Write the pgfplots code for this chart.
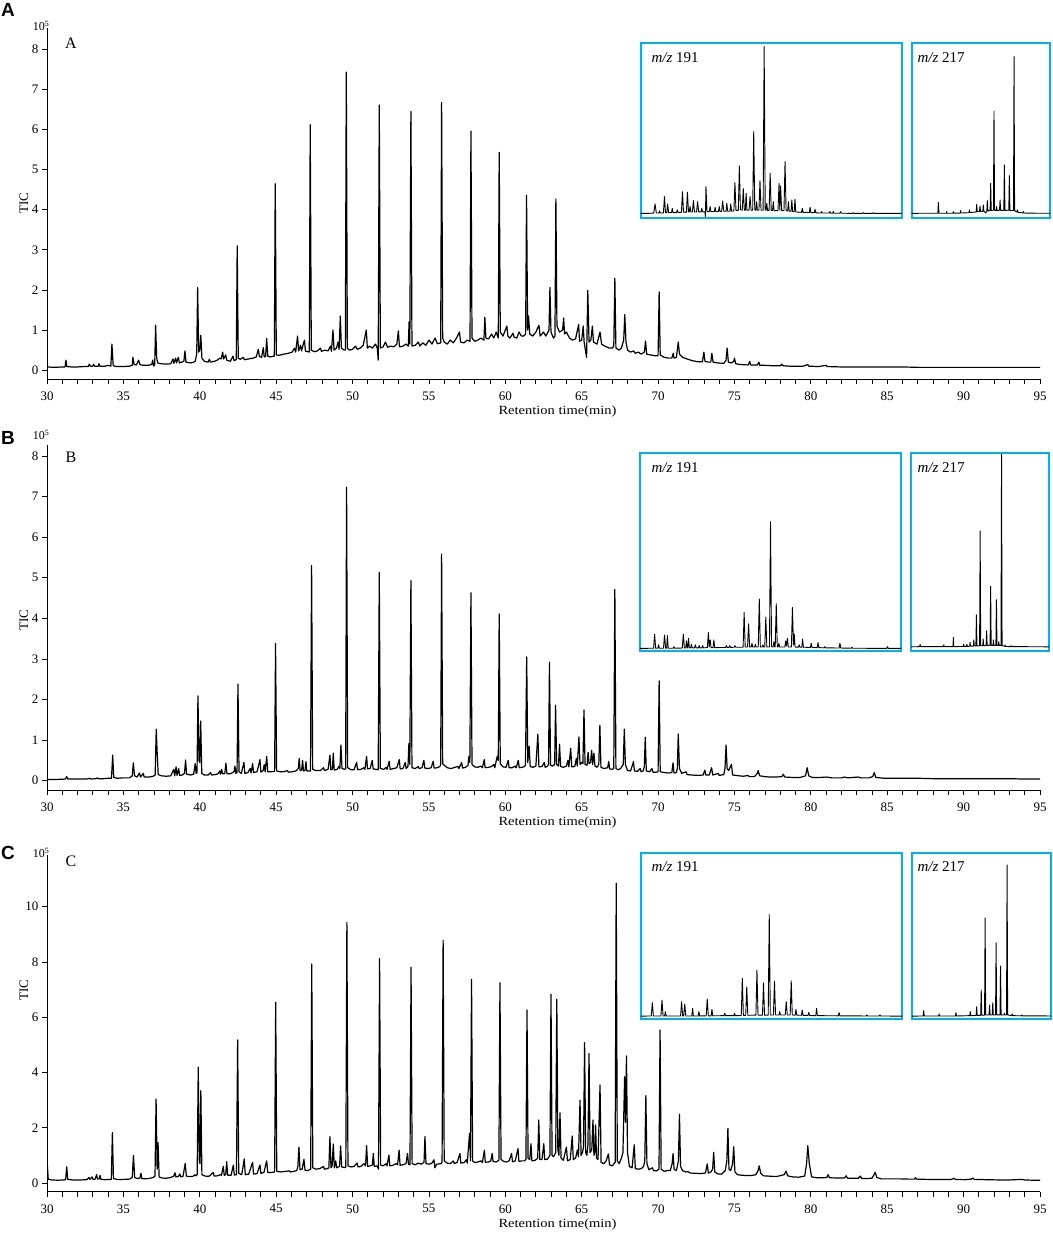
\documentclass[border=0pt]{standalone}
\usepackage{fontspec}
\setmainfont{Liberation Serif}
\newfontfamily\arialb{Liberation Sans}
\usepackage{pgfplots}
\pgfplotsset{compat=1.18}
\definecolor{boxblue}{RGB}{0,176,240}

\pgfplotsset{
  tic/.style={
    scale only axis, anchor=south west, width=993pt,
    xmin=30, xmax=95,
    axis lines=left, axis line style={-, line width=0.9pt},
    xtick={30,35,...,95}, minor xtick={31,...,94},
    tick align=outside, major tick length=5pt, minor tick length=5pt,
    tick style={black, line width=0.8pt},
    every tick label/.append style={font=\fontsize{13}{13}\selectfont},
    xticklabel style={inner sep=1pt, yshift=-6.5pt},
    /pgf/number format/assume math mode=true,
  },
  inset/.style={
    scale only axis, anchor=south west,
    xmin=0, xmax=100, ymin=0, ymax=100, ticks=none,
    axis line style={boxblue, line width=2pt},
  },
  trace/.style={black, line width=1.2pt, line join=round, mark=none},
  mz/.style={black, line width=0.9pt, line join=round, mark=none},
}
\tikzset{xlab/.style={font=\fontsize{12.5}{12.5}\selectfont, xscale=1.16, inner sep=0pt, anchor=base}}

\begin{document}
\begin{tikzpicture}[x=1pt,y=1pt]
\path[use as bounding box] (0,0) rectangle (1052,1236);

% ---------------- panel A ----------------
\begin{axis}[tic, at={(47pt,857pt)}, height=351pt, ymin=-0.22, ymax=8.53, ytick={0,...,8}]
\addplot[trace] coordinates {
(30.00,0.08)(30.50,0.07)(31.00,0.08)(31.18,0.08)(31.24,0.25)(31.30,0.09)(31.60,0.08)(32.00,0.08)
(32.40,0.09)(32.70,0.09)(32.77,0.15)(32.84,0.10)(33.00,0.10)(33.05,0.15)(33.12,0.10)(33.35,0.10)
(33.40,0.16)(33.46,0.10)(33.80,0.10)(34.00,0.12)(34.18,0.10)(34.25,0.65)(34.33,0.12)(34.50,0.09)
(35.00,0.09)(35.40,0.10)(35.58,0.12)(35.62,0.32)(35.70,0.14)(35.85,0.13)(36.00,0.25)(36.08,0.14)
(36.30,0.12)(36.60,0.12)(36.85,0.14)(36.92,0.25)(36.98,0.10)(37.05,0.14)(37.11,1.12)(37.18,0.30)
(37.25,0.18)(37.45,0.16)(37.80,0.15)(38.10,0.16)(38.25,0.28)(38.30,0.17)(38.42,0.30)(38.47,0.18)
(38.60,0.32)(38.66,0.18)(38.80,0.20)(38.96,0.22)(39.03,0.48)(39.10,0.20)(39.40,0.18)(39.60,0.20)
(39.70,0.22)(39.80,0.40)(39.86,2.06)(39.93,0.45)(40.00,0.50)(40.07,0.87)(40.14,0.30)(40.30,0.22)
(40.55,0.20)(40.62,0.27)(40.70,0.20)(40.95,0.22)(41.15,0.25)(41.30,0.30)(41.40,0.28)(41.50,0.45)
(41.56,0.28)(41.70,0.38)(41.76,0.25)(42.00,0.22)(42.18,0.35)(42.24,0.24)(42.39,0.26)(42.45,3.10)
(42.52,0.30)(42.65,0.27)(42.85,0.32)(42.92,0.26)(43.20,0.28)(43.50,0.30)(43.70,0.33)(43.83,0.52)
(43.90,0.34)(44.05,0.32)(44.16,0.56)(44.22,0.33)(44.31,0.34)(44.38,0.79)(44.45,0.35)(44.60,0.33)
(44.88,0.35)(44.94,4.65)(45.01,0.38)(45.20,0.37)(45.50,0.40)(45.80,0.42)(46.05,0.45)(46.20,0.55)
(46.28,0.45)(46.40,0.85)(46.47,0.48)(46.60,0.62)(46.66,0.48)(46.85,0.75)(46.92,0.47)(47.10,0.46)
(47.17,0.45)(47.23,6.12)(47.30,0.50)(47.50,0.46)(47.70,0.48)(47.90,0.55)(47.96,0.47)(48.20,0.50)
(48.40,0.48)(48.55,0.60)(48.62,0.47)(48.72,1.00)(48.79,0.50)(48.95,0.55)(49.05,0.70)(49.12,0.52)
(49.20,1.35)(49.27,0.55)(49.45,0.50)(49.53,0.50)(49.59,7.43)(49.66,0.55)(49.80,0.50)(50.00,0.52)
(50.20,0.60)(50.30,0.52)(50.50,0.55)(50.70,0.62)(50.90,1.00)(50.97,0.55)(51.10,0.60)(51.30,0.55)
(51.50,0.65)(51.62,0.55)(51.68,0.25)(51.75,6.61)(51.82,0.55)(52.00,0.58)(52.15,0.70)(52.30,0.57)
(52.50,0.60)(52.70,0.58)(52.90,0.65)(53.00,0.98)(53.07,0.58)(53.30,0.60)(53.50,0.65)(53.65,0.60)
(53.70,1.20)(53.75,0.65)(53.82,6.45)(53.89,0.60)(54.10,0.62)(54.30,0.70)(54.40,0.60)(54.60,0.68)
(54.80,0.62)(55.00,0.75)(55.20,0.65)(55.40,0.80)(55.55,0.66)(55.77,0.68)(55.83,6.67)(55.90,0.80)
(56.00,0.70)(56.20,0.65)(56.40,0.75)(56.60,0.68)(56.80,0.80)(57.00,0.95)(57.07,0.70)(57.30,0.68)
(57.50,0.75)(57.69,0.72)(57.75,5.96)(57.82,0.80)(58.00,0.72)(58.20,0.75)(58.40,0.80)(58.60,0.75)
(58.66,1.32)(58.73,0.80)(58.90,0.78)(59.10,0.90)(59.25,0.80)(59.40,0.95)(59.54,0.80)(59.60,5.43)
(59.67,0.95)(59.85,0.85)(60.10,1.10)(60.17,0.85)(60.30,0.80)(60.50,0.92)(60.58,0.82)(60.75,0.80)
(60.90,0.95)(61.05,0.85)(61.20,0.85)(61.33,0.90)(61.39,4.36)(61.46,1.00)(61.52,1.35)(61.60,0.90)
(61.80,0.85)(62.00,0.95)(62.20,1.12)(62.28,0.85)(62.50,0.95)(62.65,0.85)(62.80,0.95)(62.86,1.00)
(62.92,2.06)(62.99,0.95)(63.15,0.80)(63.25,0.85)(63.31,4.27)(63.38,1.10)(63.55,0.95)(63.75,1.00)
(63.82,1.30)(63.88,0.90)(64.00,0.95)(64.20,0.80)(64.40,0.75)(64.60,0.78)(64.80,1.14)(64.86,0.72)
(65.00,0.75)(65.10,1.10)(65.16,0.70)(65.32,0.32)(65.40,1.99)(65.48,0.70)(65.60,0.75)(65.70,1.10)
(65.77,0.70)(66.00,0.65)(66.20,0.95)(66.30,0.65)(66.50,0.60)(66.80,0.55)(67.00,0.55)(67.10,0.60)
(67.17,2.29)(67.24,0.55)(67.45,0.50)(67.60,0.55)(67.75,0.75)(67.82,1.39)(67.90,0.70)(68.00,0.50)
(68.20,0.45)(68.40,0.48)(68.50,0.42)(68.70,0.45)(68.90,0.40)(69.10,0.45)(69.18,0.73)(69.25,0.40)
(69.50,0.38)(69.80,0.36)(70.00,0.36)(70.07,1.95)(70.14,0.38)(70.40,0.32)(70.70,0.30)(70.90,0.30)
(70.99,0.42)(71.05,0.30)(71.20,0.32)(71.32,0.70)(71.40,0.40)(71.60,0.32)(71.90,0.28)(72.20,0.24)
(72.60,0.21)(72.90,0.21)(73.00,0.45)(73.07,0.22)(73.30,0.20)(73.45,0.20)(73.52,0.42)(73.60,0.20)
(73.90,0.18)(74.30,0.17)(74.45,0.25)(74.52,0.55)(74.60,0.20)(74.80,0.18)(74.95,0.22)(75.00,0.30)
(75.08,0.16)(75.40,0.14)(75.90,0.13)(76.00,0.22)(76.06,0.13)(76.50,0.13)(76.60,0.20)(76.66,0.12)
(77.00,0.12)(77.50,0.11)(78.00,0.11)(78.10,0.15)(78.16,0.11)(78.60,0.10)(79.00,0.10)(79.50,0.10)
(79.80,0.14)(79.86,0.10)(80.50,0.09)(81.00,0.12)(81.06,0.09)(82.00,0.08)(83.00,0.08)(84.00,0.08)
(85.00,0.08)(86.00,0.08)(87.00,0.07)(88.00,0.07)(89.00,0.07)(90.00,0.07)(91.00,0.07)(92.00,0.07)
(93.00,0.07)(94.00,0.07)(95.00,0.07)
};
\end{axis}

\begin{axis}[inset, at={(640.7pt,1017.7pt)}, width=261pt, height=175pt]
\addplot[mz] coordinates {
(0,2.8)(3,2.8)(5.0,3.0)(5.5,8.2)(6.0,3.0)(7.0,3.0)(7.2,4.2)(7.5,3.0)(8.7,3.1)(9.1,12.4)(9.5,3.2)
(10.0,3.2)(10.3,8.2)(10.7,3.2)(11.8,3.2)(12.1,5.7)(12.4,3.2)(13.7,3.2)(14.0,4.8)(14.3,3.3)(15.6,3.4)
(16.0,15.2)(16.4,3.5)(17.5,3.5)(17.9,14.9)(18.3,3.6)(18.6,3.6)(18.9,6.7)(19.2,3.6)(19.8,3.6)(20.2,10.1)
(20.6,3.6)(21.4,3.6)(21.8,9.5)(22.2,3.7)(23.1,3.7)(23.4,5.7)(23.7,3.7)(24.6,3.7)(24.8,1.0)(25.0,18.1)
(25.4,3.8)(26.3,3.8)(26.6,6.7)(26.9,3.8)(28.2,3.8)(28.5,6.3)(28.8,3.8)(29.8,3.9)(30.1,6.7)(30.4,3.9)
(31.0,3.9)(31.4,9.9)(31.8,4.0)(32.7,4.0)(33.0,8.6)(33.3,4.0)(34.2,4.0)(34.5,8.2)(34.8,4.1)(35.7,4.2)
(36.1,20.4)(36.5,4.5)(37.4,4.5)(37.8,29.9)(38.2,5.0)(38.9,4.6)(39.3,17.0)(39.7,4.6)(40.1,4.6)(40.4,14.3)
(40.7,4.6)(41.5,4.6)(41.9,12.4)(42.3,4.6)(42.9,4.6)(43.3,49.5)(43.7,4.8)(44.1,4.6)(44.4,9.5)(44.7,4.6)
(45.3,4.6)(45.7,21.5)(46.1,4.6)(46.9,4.6)(47.3,98.1)(47.7,4.8)(48.0,4.6)(48.3,8.6)(48.6,4.5)(49.2,4.5)
(49.6,25.7)(50.0,4.5)(50.5,4.5)(50.8,9.5)(51.1,4.4)(52.6,4.4)(53.0,20.0)(53.3,4.6)(53.6,18.5)(54.0,4.4)
(54.9,4.4)(55.3,32.4)(55.7,4.4)(56.3,4.2)(56.6,9.5)(56.9,4.0)(57.6,4.0)(57.9,10.5)(58.2,3.8)(58.8,3.8)
(59.1,10.9)(59.4,3.6)(61.6,3.4)(61.9,5.7)(62.2,3.4)(64.6,3.3)(64.9,6.3)(65.2,3.2)(66.5,3.2)(66.8,5.1)
(67.1,3.1)(69.0,3.0)(69.3,3.8)(69.6,3.0)(72.2,3.0)(72.5,3.8)(72.8,2.9)(73.5,2.9)(73.8,3.8)(74.1,2.9)
(76.3,2.9)(76.6,3.8)(76.9,2.9)(81.2,2.8)(81.5,3.2)(81.8,2.8)(85.0,2.8)(85.3,3.2)(85.6,2.8)(88.8,2.8)
(89.1,3.2)(89.4,2.8)(100,2.8)
};
\end{axis}
\node[anchor=west, font=\fontsize{15}{15}\selectfont] at (648pt,1178pt) {\textit{m/z} 191};

\begin{axis}[inset, at={(911.7pt,1017.7pt)}, width=138.3pt, height=175pt]
\addplot[mz] coordinates {
(0,2.8)(10,2.9)(18.9,2.9)(19.3,9.0)(19.7,2.9)(25.0,2.9)(25.3,3.8)(25.6,2.9)(29.8,2.9)(30.1,3.8)(30.4,2.9)
(35.1,3.0)(35.4,4.4)(35.7,3.0)(41.4,3.2)(41.7,4.8)(42.0,3.3)(46.6,3.6)(47.0,8.0)(47.4,3.8)(49.0,3.9)
(49.4,7.0)(49.8,3.9)(51.4,4.0)(51.8,7.6)(52.2,4.0)(53.5,3.0)(54.3,4.2)(54.7,10.1)(55.1,4.2)(56.7,4.5)
(57.1,20.0)(57.5,4.5)(59.1,4.6)(59.5,61.3)(59.9,4.6)(61.0,4.4)(61.4,6.7)(61.8,4.4)(63.5,4.6)(63.9,10.5)
(64.3,4.5)(66.6,4.5)(67.0,30.5)(67.4,4.5)(70.2,4.6)(70.6,24.4)(71.0,4.4)(73.6,4.5)(74.0,92.4)(74.4,4.3)
(76.0,3.6)(76.4,4.8)(76.8,3.4)(80.3,3.1)(80.7,3.8)(81.1,3.0)(90,2.9)(100,2.9)
};
\end{axis}
\node[anchor=west, font=\fontsize{15}{15}\selectfont] at (914pt,1178pt) {\textit{m/z} 217};

\node[font=\fontsize{12}{12}\selectfont] at (41pt,1210pt) {10\textsuperscript{5}};
\node[font=\fontsize{16}{16}\selectfont] at (71pt,1193pt) {A};
\node[rotate=90, font=\fontsize{13}{13}\selectfont] at (24pt,1033pt) {TIC};
\node[xlab] at (557.5pt,821pt) {Retention time(min)};
\node[font=\arialb\bfseries\fontsize{19}{19}\selectfont] at (8pt,1226pt) {A};

% ---------------- panel B ----------------
\begin{axis}[tic, at={(47pt,446pt)}, height=345pt, ymin=-0.229, ymax=8.27, ytick={0,...,8}]
\addplot[trace] coordinates {
(30.00,0.03)(30.60,0.03)(31.20,0.04)(31.29,0.10)(31.36,0.04)(32.00,0.04)(32.60,0.04)(32.80,0.06)
(32.86,0.04)(33.20,0.05)(33.30,0.07)(33.36,0.05)(33.70,0.05)(34.00,0.06)(34.22,0.06)(34.30,0.63)
(34.37,0.08)(34.60,0.06)(35.00,0.07)(35.40,0.07)(35.58,0.12)(35.65,0.44)(35.73,0.12)(35.90,0.09)
(36.05,0.19)(36.12,0.09)(36.30,0.18)(36.36,0.09)(36.70,0.09)(36.95,0.11)(37.08,0.14)(37.15,1.27)
(37.21,0.70)(37.28,0.15)(37.50,0.12)(37.80,0.11)(38.10,0.12)(38.30,0.28)(38.36,0.12)(38.45,0.34)
(38.51,0.13)(38.62,0.30)(38.68,0.13)(38.85,0.14)(39.00,0.18)(39.07,0.51)(39.14,0.16)(39.40,0.14)
(39.60,0.16)(39.70,0.42)(39.76,0.18)(39.82,0.20)(39.88,2.09)(39.95,0.50)(40.00,0.45)(40.06,1.47)
(40.13,0.18)(40.30,0.14)(40.55,0.14)(40.71,0.20)(40.77,0.14)(41.00,0.15)(41.20,0.17)(41.30,0.24)
(41.36,0.16)(41.43,0.28)(41.49,0.17)(41.64,0.18)(41.71,0.43)(41.78,0.17)(42.00,0.17)(42.24,0.22)
(42.30,0.36)(42.36,0.18)(42.44,0.20)(42.50,2.38)(42.57,0.22)(42.72,0.18)(42.89,0.45)(42.95,0.18)
(43.15,0.20)(43.30,0.30)(43.36,0.19)(43.46,0.42)(43.52,0.20)(43.75,0.22)(43.94,0.52)(44.00,0.21)
(44.15,0.25)(44.22,0.40)(44.28,0.22)(44.38,0.60)(44.45,0.22)(44.65,0.22)(44.90,0.23)(44.96,3.38)
(45.03,0.24)(45.25,0.22)(45.50,0.22)(45.73,0.25)(45.79,0.21)(46.05,0.22)(46.30,0.24)(46.45,0.30)
(46.51,0.55)(46.57,0.25)(46.67,0.26)(46.73,0.50)(46.79,0.24)(46.89,0.25)(46.95,0.47)(47.01,0.24)
(47.25,0.24)(47.32,5.30)(47.39,0.28)(47.60,0.25)(47.90,0.25)(48.10,0.32)(48.16,0.25)(48.40,0.28)
(48.52,0.63)(48.58,0.27)(48.68,0.28)(48.74,0.68)(48.80,0.26)(49.00,0.28)(49.10,0.35)(49.17,0.30)
(49.24,0.88)(49.31,0.30)(49.48,0.28)(49.55,0.30)(49.61,7.23)(49.68,0.32)(49.90,0.27)(50.10,0.27)
(50.27,0.45)(50.33,0.27)(50.55,0.28)(50.75,0.32)(50.81,0.28)(50.92,0.60)(50.98,0.29)(51.15,0.30)
(51.29,0.50)(51.35,0.29)(51.55,0.28)(51.68,0.27)(51.75,5.13)(51.82,0.30)(52.05,0.28)(52.20,0.33)
(52.26,0.28)(52.40,0.48)(52.46,0.28)(52.70,0.30)(52.90,0.32)(53.06,0.52)(53.12,0.29)(53.30,0.30)
(53.45,0.45)(53.51,0.30)(53.63,0.35)(53.69,0.92)(53.75,0.40)(53.82,4.93)(53.89,0.32)(54.10,0.30)
(54.30,0.35)(54.36,0.30)(54.55,0.32)(54.67,0.50)(54.73,0.31)(54.95,0.30)(55.15,0.32)(55.28,0.48)
(55.34,0.31)(55.55,0.32)(55.72,0.35)(55.77,0.40)(55.83,5.58)(55.90,0.42)(56.00,0.38)(56.20,0.32)
(56.45,0.30)(56.70,0.33)(56.90,0.35)(56.96,0.30)(57.14,0.45)(57.20,0.31)(57.40,0.33)(57.56,0.38)
(57.62,0.60)(57.68,0.45)(57.75,4.63)(57.82,0.40)(58.00,0.34)(58.20,0.33)(58.40,0.36)(58.50,0.32)
(58.62,0.52)(58.68,0.32)(58.90,0.33)(59.10,0.35)(59.25,0.40)(59.31,0.32)(59.47,0.60)(59.54,0.50)
(59.60,4.11)(59.67,0.42)(59.85,0.34)(60.05,0.33)(60.19,0.50)(60.25,0.32)(60.45,0.32)(60.65,0.36)
(60.71,0.32)(60.85,0.50)(60.91,0.32)(61.10,0.33)(61.25,0.35)(61.32,0.38)(61.40,3.05)(61.47,0.45)
(61.56,0.85)(61.63,0.35)(61.80,0.33)(62.00,0.36)(62.13,1.15)(62.20,0.34)(62.40,0.35)(62.55,0.45)
(62.61,0.33)(62.76,0.36)(62.83,0.40)(62.89,2.92)(62.96,0.38)(63.10,0.36)(63.23,0.40)(63.29,1.86)
(63.36,0.40)(63.48,0.36)(63.55,0.90)(63.62,0.35)(63.80,0.33)(64.00,0.36)(64.10,0.50)(64.16,0.34)
(64.28,0.80)(64.35,0.34)(64.55,0.35)(64.65,0.55)(64.71,0.36)(64.82,1.08)(64.89,0.40)(65.00,0.45)
(65.08,0.42)(65.15,1.74)(65.22,0.40)(65.35,0.38)(65.42,0.70)(65.48,0.42)(65.58,0.45)(65.65,0.75)
(65.72,0.40)(65.80,0.68)(65.87,0.36)(66.00,0.33)(66.12,0.40)(66.19,1.37)(66.26,0.33)(66.45,0.30)
(66.70,0.32)(66.77,0.47)(66.83,0.29)(67.00,0.28)(67.10,0.30)(67.17,4.71)(67.24,0.30)(67.40,0.27)
(67.55,0.30)(67.72,0.40)(67.79,1.27)(67.86,0.40)(68.00,0.25)(68.20,0.24)(68.39,0.47)(68.45,0.24)
(68.65,0.23)(68.83,0.30)(68.89,0.22)(69.02,0.24)(69.10,0.35)(69.16,1.07)(69.23,0.24)(69.45,0.22)
(69.60,0.30)(69.66,0.21)(69.90,0.21)(70.00,0.22)(70.07,2.46)(70.14,0.22)(70.40,0.20)(70.70,0.19)
(70.90,0.20)(70.98,0.44)(71.04,0.19)(71.20,0.20)(71.26,0.30)(71.32,1.15)(71.40,0.30)(71.55,0.18)
(71.83,0.22)(71.90,0.15)(72.20,0.14)(72.60,0.13)(72.95,0.14)(73.06,0.26)(73.13,0.14)(73.35,0.14)
(73.50,0.32)(73.58,0.14)(73.94,0.18)(74.00,0.13)(74.30,0.15)(74.38,0.30)(74.45,0.88)(74.52,0.30)
(74.62,0.25)(74.80,0.40)(74.88,0.14)(75.30,0.12)(75.60,0.11)(75.90,0.13)(75.96,0.10)(76.30,0.10)
(76.50,0.18)(76.55,0.25)(76.65,0.12)(77.00,0.10)(77.30,0.09)(77.70,0.09)(78.10,0.10)(78.20,0.16)
(78.28,0.09)(78.80,0.08)(79.30,0.08)(79.65,0.12)(79.76,0.32)(79.86,0.12)(80.10,0.08)(80.60,0.08)
(81.00,0.09)(81.40,0.07)(82.00,0.07)(82.20,0.09)(82.40,0.07)(83.10,0.09)(83.30,0.07)(83.80,0.07)
(84.05,0.10)(84.15,0.20)(84.25,0.08)(84.80,0.06)(85.50,0.06)(86.50,0.06)(87.00,0.06)(88.00,0.05)
(89.00,0.05)(90.00,0.05)(91.00,0.05)(92.00,0.05)(93.00,0.05)(94.00,0.04)(95.00,0.04)
};
\end{axis}

\begin{axis}[inset, at={(640pt,585pt)}, width=261pt, height=198pt]
\addplot[mz] coordinates {
(0,1.3)(5.2,1.4)(5.6,8.5)(6.0,1.4)(6.8,1.4)(7.1,3.1)(7.4,1.4)(9.0,1.4)(9.4,8.1)(9.8,1.4)(10.2,1.4)
(10.5,7.8)(10.8,1.4)(12.7,1.4)(13.0,2.2)(13.3,1.4)(16.2,1.5)(16.6,8.5)(17.0,1.5)(17.5,1.5)(17.8,5.1)
(18.1,1.6)(18.3,1.6)(18.6,6.4)(18.9,1.6)(19.4,1.6)(19.7,3.4)(20.0,1.6)(20.9,1.6)(21.2,3.1)(21.5,1.6)
(22.4,1.6)(22.7,2.7)(23.0,1.6)(23.7,1.6)(24.0,2.7)(24.3,1.6)(25.8,1.7)(26.2,9.3)(26.5,2.0)(26.9,5.6)
(27.2,1.7)(28.0,1.7)(28.3,5.6)(28.6,1.7)(32.8,1.8)(33.1,2.7)(33.4,1.8)(34.1,1.8)(34.4,2.7)(34.7,1.8)
(36.1,1.9)(36.4,2.7)(36.7,1.9)(39.5,1.9)(39.9,19.5)(40.3,2.0)(41.2,2.0)(41.6,13.7)(42.0,2.0)(42.6,2.0)
(42.9,3.9)(43.2,2.0)(43.9,2.0)(44.2,3.4)(44.5,2.0)(45.3,2.0)(45.7,26.3)(46.1,2.0)(46.8,2.0)(47.1,3.1)
(47.4,2.0)(47.8,2.0)(48.2,17.1)(48.6,2.0)(49.6,2.0)(50.0,65.3)(50.4,2.2)(51.0,2.0)(51.3,4.7)(51.6,2.0)
(51.8,2.0)(52.2,23.9)(52.6,2.0)(52.9,2.0)(53.2,3.9)(53.5,2.0)(55.5,2.0)(55.8,5.1)(56.1,2.5)(56.5,6.4)
(56.8,2.0)(58.0,2.0)(58.4,22.0)(58.8,3.0)(59.1,8.5)(59.4,2.0)(60.7,1.9)(61.0,3.1)(61.3,1.9)(62.0,1.9)
(62.3,6.1)(62.6,1.9)(65.3,1.8)(65.6,3.9)(65.9,1.8)(67.9,1.7)(68.2,4.2)(68.5,1.7)(70.5,1.6)(70.8,2.2)
(71.1,1.6)(76.3,1.5)(76.6,3.9)(76.9,1.5)(80.9,1.4)(81.2,1.9)(81.5,1.4)(94.5,1.3)(94.8,2.2)(95.1,1.3)
(100,1.3)
};
\end{axis}
\node[anchor=west, font=\fontsize{15}{15}\selectfont] at (648pt,768pt) {\textit{m/z} 191};

\begin{axis}[inset, at={(911pt,585pt)}, width=138pt, height=198pt]
\addplot[mz] coordinates {
(0,2.1)(6.3,2.2)(6.6,3.4)(6.9,2.2)(23.5,2.2)(23.8,3.1)(24.1,2.2)(30.4,2.2)(30.7,6.8)(31.0,2.2)(37.8,2.3)
(38.1,3.4)(38.4,2.3)(40.2,2.3)(40.5,3.4)(40.8,2.3)(42.5,2.4)(42.8,4.4)(43.1,2.4)(45.2,2.5)(45.5,5.6)
(45.8,2.5)(47.0,2.5)(47.4,18.3)(47.8,2.6)(49.7,2.6)(50.1,60.7)(50.5,2.8)(52.0,2.7)(52.3,6.1)(52.6,2.7)
(54.4,2.7)(54.8,10.2)(55.2,2.8)(57.3,2.8)(57.7,32.7)(58.1,2.8)(59.4,2.8)(59.7,5.6)(60.0,2.8)(61.5,2.8)
(61.9,25.9)(62.3,2.8)(63.3,2.8)(63.6,4.7)(63.9,2.8)(65.2,2.8)(65.6,99.3)(66.0,2.6)(67.8,2.4)(68.1,3.1)
(68.4,2.3)(72.2,2.2)(72.5,2.7)(72.8,2.2)(76.4,2.2)(76.7,2.4)(77.0,2.2)(100,2.1)
};
\end{axis}
\node[anchor=west, font=\fontsize{15}{15}\selectfont] at (914pt,768pt) {\textit{m/z} 217};

\node[font=\fontsize{12}{12}\selectfont] at (41pt,801pt) {10\textsuperscript{5}};
\node[font=\fontsize{16}{16}\selectfont] at (71pt,779pt) {B};
\node[rotate=90, font=\fontsize{13}{13}\selectfont] at (24pt,616pt) {TIC};
\node[xlab] at (557.5pt,410pt) {Retention time(min)};
\node[font=\arialb\bfseries\fontsize{19}{19}\selectfont] at (8pt,798pt) {B};

% ---------------- panel C ----------------
\begin{axis}[tic, at={(47pt,44.3pt)}, height=336.7pt, ymin=-0.315, ymax=11.87, ytick={0,2,...,10}]
\addplot[trace] coordinates {
(30.00,0.11)(30.03,0.60)(30.08,0.14)(30.30,0.11)(30.70,0.10)(31.10,0.11)(31.22,0.12)(31.29,0.59)
(31.36,0.13)(31.70,0.11)(32.20,0.11)(32.60,0.12)(32.75,0.20)(32.81,0.13)(32.95,0.22)(33.01,0.13)
(33.15,0.14)(33.25,0.30)(33.31,0.14)(33.42,0.15)(33.47,0.28)(33.53,0.13)(33.80,0.12)(34.10,0.13)
(34.21,0.13)(34.28,1.82)(34.35,0.16)(34.60,0.13)(35.00,0.13)(35.40,0.14)(35.58,0.20)(35.66,1.00)
(35.74,0.20)(35.90,0.16)(36.08,0.18)(36.15,0.35)(36.21,0.16)(36.45,0.15)(36.75,0.17)(36.95,0.20)
(37.07,0.25)(37.14,3.04)(37.21,0.50)(37.27,1.46)(37.34,0.22)(37.55,0.18)(37.80,0.17)(38.10,0.20)
(38.30,0.25)(38.38,0.37)(38.44,0.22)(38.60,0.24)(38.70,0.33)(38.76,0.22)(38.90,0.24)(39.05,0.71)
(39.12,0.25)(39.30,0.23)(39.55,0.24)(39.70,0.30)(39.76,0.26)(39.83,0.30)(39.90,4.19)(39.97,0.80)
(40.02,0.70)(40.07,3.34)(40.14,0.30)(40.35,0.25)(40.60,0.24)(40.88,0.38)(40.94,0.25)(41.15,0.26)
(41.35,0.30)(41.42,0.28)(41.54,0.60)(41.60,0.28)(41.70,0.30)(41.76,0.77)(41.83,0.28)(42.05,0.28)
(42.20,0.65)(42.26,0.29)(42.40,0.30)(42.48,5.18)(42.55,0.35)(42.75,0.30)(42.91,0.87)(42.98,0.30)
(43.20,0.32)(43.46,0.74)(43.52,0.32)(43.75,0.34)(43.94,0.65)(44.00,0.35)(44.20,0.38)(44.38,0.80)
(44.45,0.38)(44.70,0.38)(44.90,0.40)(44.97,6.54)(45.04,0.42)(45.30,0.40)(45.60,0.42)(45.86,0.44)
(45.92,0.40)(46.15,0.42)(46.35,0.45)(46.42,0.60)(46.49,1.30)(46.56,0.48)(46.70,0.50)(46.82,0.86)
(46.89,0.46)(47.05,0.45)(47.20,0.48)(47.26,0.50)(47.33,7.93)(47.40,0.55)(47.60,0.50)(47.85,0.52)
(48.10,0.60)(48.16,0.50)(48.35,0.52)(48.45,0.55)(48.52,1.68)(48.59,0.55)(48.66,0.60)(48.74,1.41)
(48.81,0.55)(48.90,0.80)(48.96,0.55)(49.15,0.60)(49.22,1.34)(49.29,0.58)(49.50,0.56)(49.56,0.58)
(49.63,9.43)(49.70,0.62)(49.90,0.58)(50.10,0.60)(50.30,0.72)(50.36,0.58)(50.55,0.60)(50.75,0.70)
(50.85,0.62)(50.92,1.35)(50.99,0.60)(51.15,0.62)(51.30,0.65)(51.36,1.07)(51.42,0.60)(51.60,0.62)
(51.70,0.50)(51.77,8.12)(51.84,0.65)(52.00,0.62)(52.20,0.70)(52.26,0.62)(52.38,1.01)(52.44,0.62)
(52.65,0.64)(52.85,0.70)(52.95,0.66)(53.05,1.19)(53.11,0.64)(53.30,0.66)(53.50,0.70)(53.60,1.07)
(53.66,0.68)(53.76,0.66)(53.83,7.81)(53.90,0.70)(54.10,0.66)(54.30,0.72)(54.50,0.68)(54.68,0.75)
(54.74,1.68)(54.81,0.70)(55.00,0.68)(55.20,0.72)(55.33,0.84)(55.39,0.55)(55.50,0.68)(55.80,0.70)
(55.86,0.75)(55.93,8.79)(56.00,0.80)(56.20,0.72)(56.40,0.70)(56.60,0.80)(56.66,0.70)(56.85,0.75)
(57.03,1.07)(57.09,0.72)(57.30,0.74)(57.45,0.84)(57.51,0.72)(57.66,1.80)(57.72,0.80)(57.79,7.37)
(57.86,0.80)(58.00,0.74)(58.20,0.76)(58.40,0.80)(58.50,0.74)(58.63,1.19)(58.69,0.75)(58.90,0.76)
(59.05,0.80)(59.14,1.07)(59.20,0.78)(59.40,0.76)(59.58,0.82)(59.65,7.25)(59.72,0.85)(59.90,0.78)
(60.10,0.76)(60.25,0.80)(60.41,1.07)(60.47,0.77)(60.65,0.80)(60.83,1.25)(60.89,0.78)(61.05,0.80)
(61.25,0.80)(61.35,0.85)(61.42,6.26)(61.49,0.90)(61.60,0.85)(61.68,1.42)(61.74,0.80)(61.95,0.82)
(62.12,0.90)(62.19,2.28)(62.26,0.85)(62.40,0.85)(62.52,1.42)(62.58,0.85)(62.75,0.86)(62.92,1.00)
(62.99,6.83)(63.06,1.00)(63.15,0.95)(63.30,1.10)(63.37,6.65)(63.44,1.20)(63.51,1.00)(63.58,2.54)
(63.65,0.90)(63.80,0.82)(64.00,1.30)(64.07,0.80)(64.25,0.85)(64.38,1.70)(64.45,0.85)(64.60,0.90)
(64.72,1.20)(64.79,0.95)(64.89,3.00)(64.96,1.00)(65.05,1.10)(65.12,1.30)(65.19,5.08)(65.26,1.10)
(65.34,1.00)(65.41,1.40)(65.48,4.69)(65.55,1.10)(65.66,1.20)(65.74,2.28)(65.80,1.00)(65.86,1.10)
(65.91,2.10)(65.97,0.90)(66.07,0.85)(66.20,3.55)(66.27,0.75)(66.45,0.70)(66.60,0.80)(66.75,1.05)
(66.82,0.66)(67.00,0.62)(67.12,0.70)(67.19,0.75)(67.26,10.85)(67.33,0.80)(67.45,0.70)(67.60,0.90)
(67.70,1.10)(67.81,3.85)(67.87,2.20)(67.93,4.60)(68.00,1.10)(68.12,0.60)(68.30,0.55)(68.44,1.38)
(68.51,0.52)(68.70,0.50)(68.90,0.52)(69.05,0.60)(69.13,0.80)(69.20,3.16)(69.27,0.70)(69.40,0.48)
(69.63,0.55)(69.70,0.45)(69.90,0.44)(70.06,0.50)(70.13,5.54)(70.20,0.50)(70.40,0.42)(70.60,0.45)
(70.80,0.45)(70.92,0.70)(70.98,1.07)(71.05,0.50)(71.20,0.45)(71.33,0.80)(71.40,2.49)(71.47,0.60)
(71.60,0.45)(71.80,0.40)(71.95,0.41)(72.10,0.36)(72.50,0.35)(72.80,0.34)(73.10,0.36)(73.22,0.69)
(73.29,0.36)(73.45,0.40)(73.57,0.50)(73.64,1.11)(73.71,0.40)(73.90,0.33)(74.15,0.32)(74.40,0.45)
(74.50,0.80)(74.57,1.98)(74.64,0.50)(74.75,0.45)(74.88,0.70)(74.95,1.31)(75.03,0.40)(75.20,0.30)
(75.50,0.28)(75.80,0.27)(76.10,0.27)(76.40,0.30)(76.55,0.45)(76.62,0.62)(76.72,0.35)(76.90,0.26)
(77.20,0.25)(77.50,0.24)(77.80,0.24)(78.25,0.30)(78.38,0.43)(78.48,0.26)(78.80,0.22)(79.20,0.21)
(79.60,0.25)(79.72,0.70)(79.80,1.35)(79.90,0.70)(80.05,0.22)(80.40,0.19)(80.80,0.19)(81.05,0.20)
(81.13,0.30)(81.22,0.19)(81.70,0.18)(82.20,0.18)(82.31,0.26)(82.40,0.17)(83.10,0.17)(83.24,0.25)
(83.33,0.16)(84.00,0.17)(84.12,0.28)(84.21,0.39)(84.32,0.20)(84.60,0.15)(85.20,0.15)(85.80,0.15)
(86.40,0.14)(86.80,0.14)(86.84,0.19)(86.92,0.14)(87.60,0.13)(88.40,0.13)(89.20,0.13)(89.37,0.17)
(89.46,0.13)(90.10,0.12)(90.50,0.14)(90.60,0.18)(90.70,0.13)(91.50,0.12)(92.30,0.11)(93.00,0.11)
(93.80,0.13)(94.00,0.11)(94.60,0.10)(95.00,0.10)
};
\end{axis}

\begin{axis}[inset, at={(640.8pt,216.7pt)}, width=261.6pt, height=166pt]
\addplot[mz] coordinates {
(0,1.9)(4.0,2.0)(4.4,10.0)(4.8,2.0)(7.7,2.0)(8.1,11.6)(8.5,2.0)(9.1,2.0)(9.4,4.6)(9.7,2.0)(15.2,2.0)
(15.6,10.6)(16.0,2.0)(16.4,2.0)(16.8,9.2)(17.2,2.0)(19.5,2.0)(19.8,6.6)(20.1,2.0)(21.9,2.0)(22.2,4.6)
(22.5,2.0)(25.0,2.1)(25.4,12.2)(25.8,2.1)(26.9,2.1)(27.2,6.0)(27.5,2.1)(31.8,2.2)(32.1,3.6)(32.4,2.2)
(35.5,2.2)(35.8,3.6)(36.1,2.2)(38.4,2.3)(38.8,24.6)(39.2,2.4)(40.1,2.4)(40.5,19.6)(40.9,2.4)(44.0,2.5)
(44.4,29.7)(44.8,2.5)(46.5,2.5)(46.9,22.0)(47.3,2.5)(48.7,2.5)(49.1,63.1)(49.5,2.6)(50.7,2.6)(51.1,23.0)
(51.5,2.6)(52.8,2.6)(53.1,4.6)(53.4,2.6)(55.2,2.6)(55.6,10.6)(56.0,2.6)(57.1,2.6)(57.5,23.2)(57.9,2.6)
(59.0,2.5)(59.3,6.0)(59.6,2.5)(61.4,2.4)(61.7,5.6)(62.0,2.4)(63.9,2.3)(64.2,4.2)(64.5,2.3)(66.9,2.2)
(67.2,6.6)(67.5,2.2)(75.5,2.1)(75.8,4.0)(76.1,2.1)(86.1,2.0)(86.4,2.6)(86.7,2.0)(91.1,2.0)(91.4,2.6)
(91.7,2.0)(100,1.9)
};
\end{axis}
\node[anchor=west, font=\fontsize{15}{15}\selectfont] at (648pt,369pt) {\textit{m/z} 191};

\begin{axis}[inset, at={(912pt,216.7pt)}, width=139pt, height=166pt]
\addplot[mz] coordinates {
(0,1.9)(8.0,2.0)(8.4,5.2)(8.8,2.0)(19.1,2.0)(19.5,3.2)(19.9,2.0)(31.2,2.0)(31.6,4.0)(32.0,2.0)(41.5,2.2)
(41.9,4.6)(42.3,2.2)(46.1,2.3)(46.5,7.6)(46.9,2.4)(49.4,2.4)(49.8,17.6)(50.2,2.5)(52.2,2.5)(52.6,61.1)
(53.0,2.6)(55.4,2.6)(55.8,8.6)(56.2,2.6)(57.7,2.6)(58.1,10.0)(58.5,2.6)(60.1,2.6)(60.5,46.1)(60.9,2.7)
(63.3,2.6)(63.7,32.1)(64.1,2.6)(66.1,2.6)(66.5,3.6)(66.9,2.6)(68.0,2.6)(68.4,93.0)(68.8,2.6)(71.7,2.3)
(72.1,3.2)(72.5,2.2)(78.6,2.1)(79.0,2.6)(79.4,2.1)(100,2.0)
};
\end{axis}
\node[anchor=west, font=\fontsize{15}{15}\selectfont] at (914pt,369pt) {\textit{m/z} 217};

\node[font=\fontsize{12}{12}\selectfont] at (41pt,383pt) {10\textsuperscript{5}};
\node[font=\fontsize{16}{16}\selectfont] at (71pt,375pt) {C};
\node[rotate=90, font=\fontsize{13}{13}\selectfont] at (24pt,246pt) {TIC};
\node[xlab] at (557.5pt,8.3pt) {Retention time(min)};
\node[font=\arialb\bfseries\fontsize{19}{19}\selectfont] at (8pt,383pt) {C};
\end{tikzpicture}
\end{document}
